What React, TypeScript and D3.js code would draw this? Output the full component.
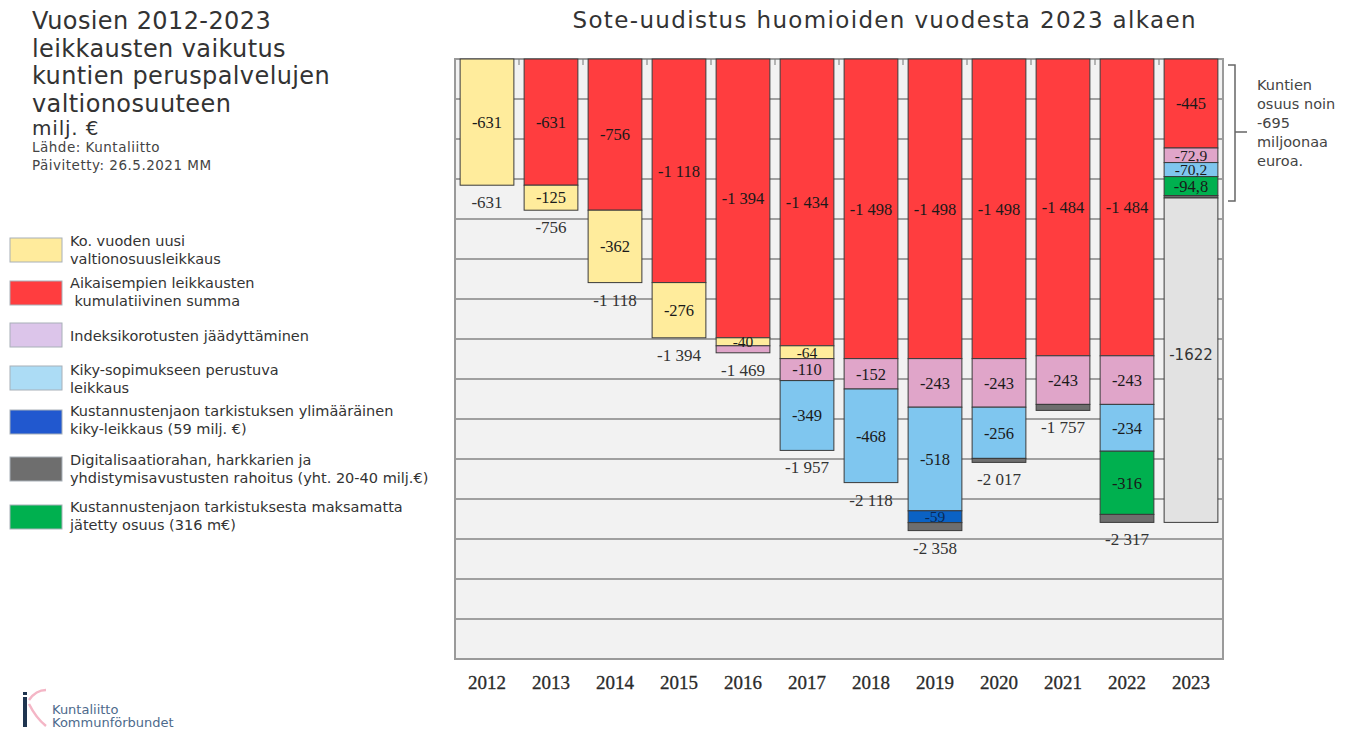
import React from 'react';
import * as d3 from 'd3';

// chart data (milj. €)
const years = ['2012', '2013', '2014', '2015', '2016', '2017', '2018', '2019', '2020', '2021', '2022', '2023'];
const prevCumulative = [0, -631, -756, -1118, -1394, -1434, -1498, -1498, -1498, -1484, -1484, -445];
const newCut = [-631, -125, -362, -276, -40, -64, 0, 0, 0, 0, 0, 0];
const indexFreeze = [0, 0, 0, 0, -35, -110, -152, -243, -243, -243, -243, -72.9];
const kikyCut = [0, 0, 0, 0, 0, -349, -468, -518, -256, 0, -234, -70.2];
const kikyExtra = [0, 0, 0, 0, 0, 0, 0, -59, 0, 0, 0, 0];
const unpaidShare = [0, 0, 0, 0, 0, 0, 0, 0, 0, 0, -316, -94.8];
const digiFunding = [0, 0, 0, 0, 0, 0, 0, -40, -20, -30, -40, -12];
const soteRemainder = [0, 0, 0, 0, 0, 0, 0, 0, 0, 0, 0, -1622];

const seriesKeys = ['prev', 'newCut', 'index', 'kiky', 'kikyExtra', 'unpaid', 'digi', 'sote'];
const seriesColors: Record<string, string> = {
  prev: '#ff3d3f',
  newCut: '#ffec9c',
  index: '#e0a5c9',
  kiky: '#7fc6ef',
  kikyExtra: '#0b62c4',
  unpaid: '#00b04f',
  digi: '#6e6e6e',
  sote: '#e2e2e2',
};

const legendItems = [
  { color: '#ffeb9c', lines: ['Ko. vuoden uusi', 'valtionosuusleikkaus'] },
  { color: '#ff3d3f', lines: ['Aikaisempien leikkausten', ' kumulatiivinen summa'] },
  { color: '#dcc5ea', lines: ['Indeksikorotusten jäädyttäminen'] },
  { color: '#acdcf5', lines: ['Kiky-sopimukseen perustuva', 'leikkaus'] },
  { color: '#2158cf', lines: ['Kustannustenjaon tarkistuksen ylimääräinen', 'kiky-leikkaus (59 milj. €)'] },
  { color: '#6e6e6e', lines: ['Digitalisaatiorahan, harkkarien ja', 'yhdistymisavustusten rahoitus (yht. 20-40 milj.€)'] },
  { color: '#00b04f', lines: ['Kustannustenjaon tarkistuksesta maksamatta', 'jätetty osuus (316 m€)'] },
];

const titleLines = ['Vuosien 2012-2023', 'leikkausten vaikutus', 'kuntien peruspalvelujen', 'valtionosuuteen'];
const noteLines = ['Kuntien', 'osuus noin', '-695', 'miljoonaa', 'euroa.'];

const fiLocale = d3.formatLocale({ decimal: ',', thousands: '\u00a0', grouping: [3], currency: ['', ' €'], minus: '-' });
const fmt = (v: number) => (Number.isInteger(v) ? fiLocale.format(',.0f')(v) : fiLocale.format('.1f')(v));

export default function App() {
  const W = 1354, H = 730;
  const plot = { left: 455, right: 1223, top: 59, bottom: 659 };

  const rows = years.map((year, i) => ({
    year,
    prev: prevCumulative[i],
    newCut: newCut[i],
    index: indexFreeze[i],
    kiky: kikyCut[i],
    kikyExtra: kikyExtra[i],
    unpaid: unpaidShare[i],
    digi: digiFunding[i],
    sote: soteRemainder[i],
  }));

  const x = d3.scaleBand<string>().domain(years).range([plot.left, plot.right]).paddingInner(0.16).paddingOuter(0.08);
  const y = d3.scaleLinear().domain([0, -3000]).range([plot.top, plot.bottom]);
  const stacked = d3.stack<any>().keys(seriesKeys).offset(d3.stackOffsetDiverging)(rows);
  const gridTicks = d3.range(0, -3001, -200);
  const serif = '"Liberation Serif", "Times New Roman", serif';
  const sans = '"DejaVu Sans", Verdana, sans-serif';

  // total below each bar (2023 shows its own label inside the sote block)
  const totals = rows.map((r) => seriesKeys.filter((k) => k !== 'sote').reduce((s, k) => s + (r as any)[k], 0));

  return (
    <div style={{ position: 'absolute', left: 0, top: 0 }}>
      <svg width={W} height={H} style={{ display: 'block', background: '#fff' }}>
        {/* left titles */}
        {titleLines.map((t, i) => (
          <text key={t} x={32} y={29 + i * 27.5} fontFamily={sans} fontSize={24} letterSpacing={0.4} fill="#333">{t}</text>
        ))}
        <text x={32} y={135} fontFamily={sans} fontSize={20} letterSpacing={0.8} fill="#333">milj. €</text>
        <text x={32} y={152} fontFamily={sans} fontSize={13.5} letterSpacing={0.5} fill="#444">Lähde: Kuntaliitto</text>
        <text x={32} y={170} fontFamily={sans} fontSize={13.5} letterSpacing={0.5} fill="#444">Päivitetty: 26.5.2021 MM</text>

        {/* chart title */}
        <text x={884} y={28} textAnchor="middle" fontFamily={sans} fontSize={23} textLength={623} lengthAdjust="spacing" fill="#333">
          Sote-uudistus huomioiden vuodesta 2023 alkaen
        </text>

        {/* legend */}
        {legendItems.map((item, i) => {
          const top = [238, 281, 323, 366, 410, 457, 505][i];
          const textTops = [241, 283, 336, 370, 411, 460, 507][i];
          return (
            <g key={i}>
              <rect x={10} y={top} width={52} height={24} fill={item.color} stroke="#a8b0b8" strokeWidth={1} />
              {item.lines.map((l, j) => (
                <text key={j} x={70} y={textTops + j * 18 + 5} fontFamily={sans} fontSize={14.5} fill="#333" xmlSpace="preserve">
                  {l}
                </text>
              ))}
            </g>
          );
        })}

        {/* plot background and grid */}
        <rect x={plot.left} y={plot.top} width={plot.right - plot.left} height={plot.bottom - plot.top} fill="#f2f2f2" />
        {gridTicks.map((t) => (
          <line key={t} x1={plot.left} x2={plot.right} y1={y(t)} y2={y(t)} stroke="#858585" strokeWidth={1.3} />
        ))}
        <rect x={plot.left} y={plot.top} width={plot.right - plot.left} height={plot.bottom - plot.top} fill="none" stroke="#9a9a9a" strokeWidth={2} />
        {/* category ticks on the zero line */}
        {years.slice(1).map((yr) => {
          const bx = (x(yr) as number) - (x.step() * 0.16) / 2;
          return <line key={yr} x1={bx} x2={bx} y1={plot.top} y2={plot.top + 6} stroke="#777" strokeWidth={1} />;
        })}

        {/* stacked bars */}
        {stacked.map((s) => (
          <g key={s.key}>
            {s.map((d, i) => {
              if (d[1] === d[0]) return null;
              const y0 = y(d[1]);
              const y1 = y(d[0]);
              return (
                <rect key={i} x={x(years[i])} y={y0} width={x.bandwidth()} height={y1 - y0}
                  fill={seriesColors[s.key]} stroke="#3a3a3a" strokeWidth={1} />
              );
            })}
          </g>
        ))}

        {/* segment labels */}
        {stacked.map((s) => (
          <g key={s.key}>
            {s.map((d, i) => {
              const v = d[0] - d[1];
              const val = -v;
              if (v === 0 || s.key === 'digi' || Math.abs(val) < 40) return null;
              const cx = (x(years[i]) as number) + x.bandwidth() / 2;
              const y0 = y(d[1]);
              const y1 = y(d[0]);
              const h = y1 - y0;
              if (s.key === 'sote') {
                return (
                  <text key={i} x={cx} y={y0 + 162} textAnchor="middle" fontFamily={sans} fontSize={15} fill="#333">
                    {String(-Math.abs(val))}
                  </text>
                );
              }
              const fs = h < 16 ? 15.5 : 16.5;
              return (
                <text key={i} x={cx} y={(y0 + y1) / 2} dy="0.35em" textAnchor="middle" fontFamily={serif}
                  fontSize={fs} fill={s.key === 'kikyExtra' ? '#0a2a55' : '#1a1a1a'}>
                  {fmt(-Math.abs(val))}
                </text>
              );
            })}
          </g>
        ))}

        {/* totals under bars */}
        {totals.map((t, i) => {
          if (years[i] === '2023') return null;
          const cx = (x(years[i]) as number) + x.bandwidth() / 2;
          return (
            <text key={i} x={cx} y={y(t) + 23} textAnchor="middle" fontFamily={serif} fontSize={17} fill="#333">
              {fmt(t)}
            </text>
          );
        })}

        {/* x axis labels */}
        {years.map((yr) => (
          <text key={yr} x={(x(yr) as number) + x.bandwidth() / 2} y={689} textAnchor="middle" fontFamily={serif} fontSize={19}
            fill="#2a2a2a" stroke="#2a2a2a" strokeWidth={0.3}>
            {yr}
          </text>
        ))}

        {/* bracket and note for 2023 */}
        <path d="M1228,65 H1235 V201 H1228 M1235,132 H1247" fill="none" stroke="#666" strokeWidth={1.5} />
        {noteLines.map((l, i) => (
          <text key={i} x={1257} y={90 + i * 19} fontFamily={sans} fontSize={14.5} fill="#444">{l}</text>
        ))}

        {/* logo */}
        <g>
          <path d="M29,700 Q36,690 46,690" fill="none" stroke="#f4b6c6" strokeWidth={2.5} />
          <path d="M29,704 Q36,718 46,726" fill="none" stroke="#f4b6c6" strokeWidth={2.5} />
          <rect x={23} y={697} width={4} height={30} fill="#1f3550" />
          <rect x={23} y={692} width={4} height={3} fill="#1f3550" />
          <text x={52} y={714} fontFamily={sans} fontSize={13} fill="#4d6a8c">Kuntaliitto</text>
          <text x={52} y={727} fontFamily={sans} fontSize={13} fill="#4d6a8c">Kommunförbundet</text>
        </g>
      </svg>
    </div>
  );
}
